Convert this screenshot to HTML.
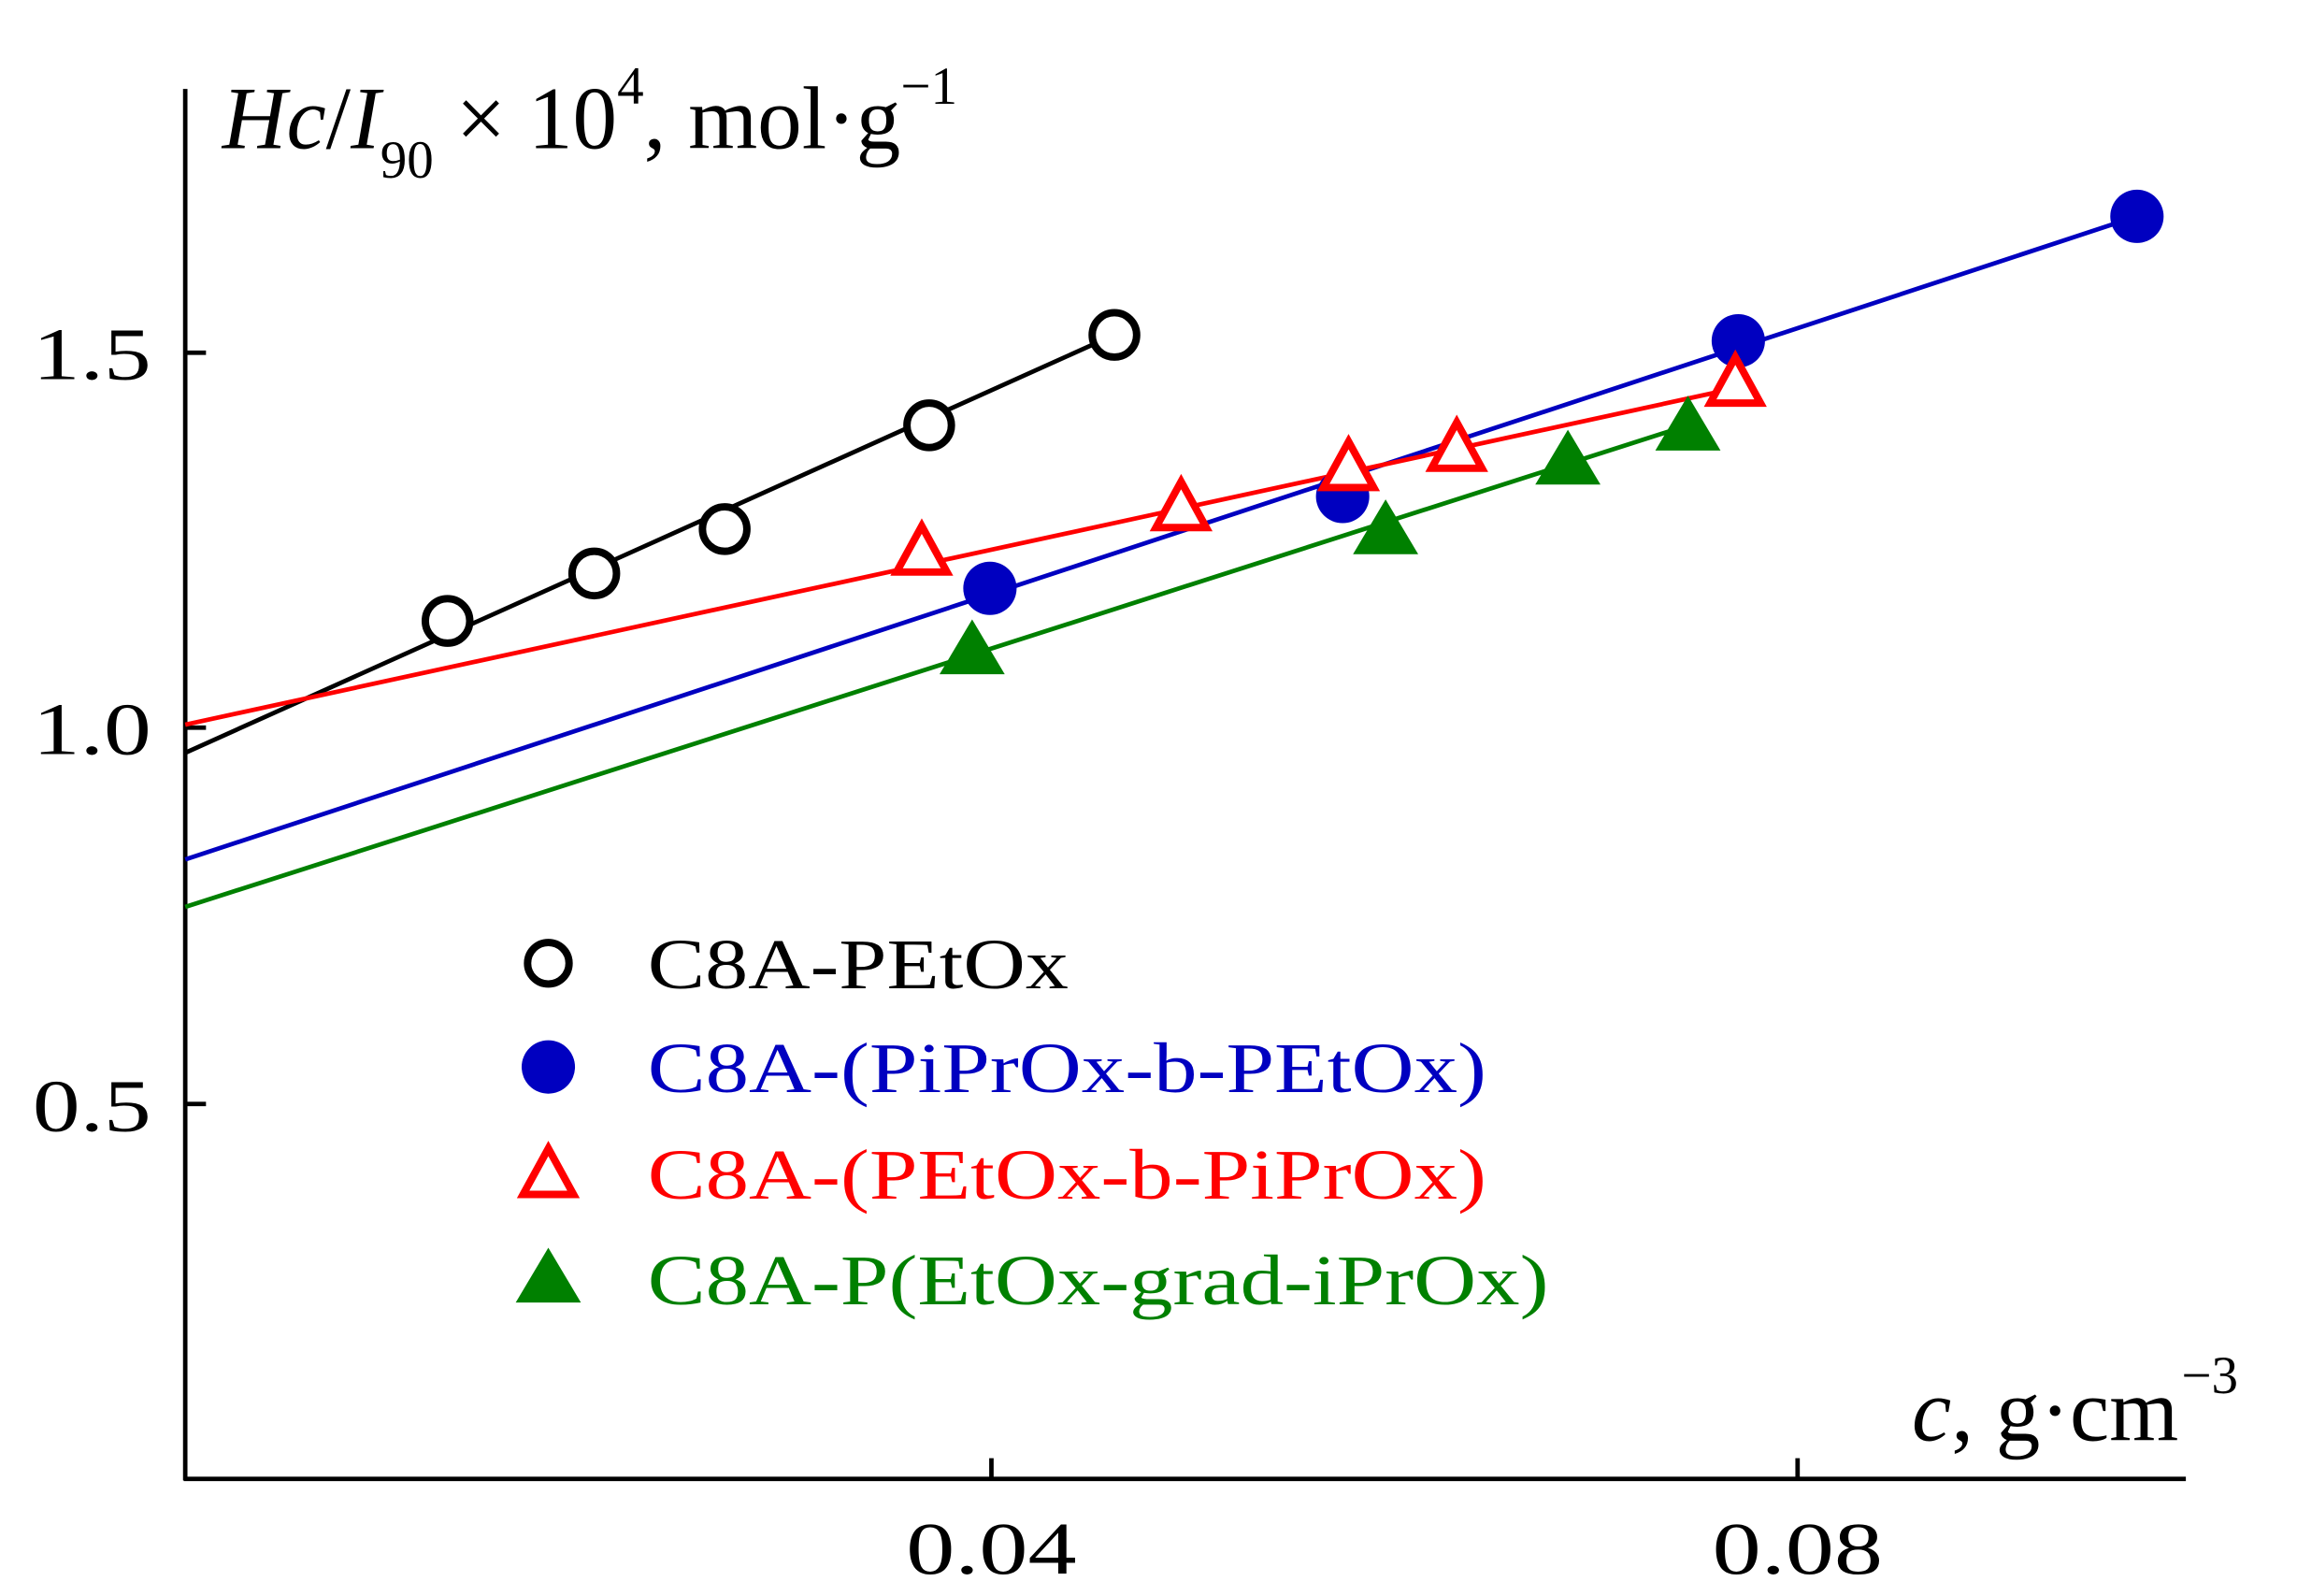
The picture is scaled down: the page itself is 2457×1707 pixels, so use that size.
<!DOCTYPE html>
<html><head><meta charset="utf-8"><style>
html,body{margin:0;padding:0;background:#fff;}
svg{display:block;}
text{font-family:"Liberation Serif",serif;}
</style></head><body>
<svg width="2457" height="1707" viewBox="0 0 1550 1077" preserveAspectRatio="none" xmlns="http://www.w3.org/2000/svg">
<rect width="1550" height="1077" fill="#fff"/>
<g stroke="#000" stroke-width="3" fill="none">
<line x1="125" y1="60" x2="125" y2="999"/>
<line x1="124" y1="998" x2="1475" y2="998"/>
<line x1="125" y1="238" x2="139" y2="238"/>
<line x1="125" y1="491" x2="139" y2="491"/>
<line x1="125" y1="745" x2="139" y2="745"/>
<line x1="669" y1="998" x2="669" y2="984"/>
<line x1="1213" y1="998" x2="1213" y2="984"/>
</g>
<g font-size="50" fill="#000">
<text x="102" y="256" text-anchor="end" textLength="80" lengthAdjust="spacingAndGlyphs">1.5</text>
<text x="102" y="509" text-anchor="end" textLength="80" lengthAdjust="spacingAndGlyphs">1.0</text>
<text x="102" y="763" text-anchor="end" textLength="80" lengthAdjust="spacingAndGlyphs">0.5</text>
<text x="669" y="1062" text-anchor="middle" textLength="115" lengthAdjust="spacingAndGlyphs">0.04</text>
<text x="1213" y="1062" text-anchor="middle" textLength="115" lengthAdjust="spacingAndGlyphs">0.08</text>
<text x="150" y="100" font-size="60"><tspan font-style="italic">Hc</tspan>/<tspan font-style="italic">I</tspan><tspan font-size="36" dy="20">90</tspan><tspan dy="-20"> × 10</tspan><tspan font-size="36" dy="-30">4</tspan><tspan dy="30">, mol·g</tspan><tspan font-size="36" dy="-30">−1</tspan></text>
<text x="1470" y="972" text-anchor="end" font-size="60"><tspan font-style="italic">c</tspan>, g·cm</text>
<text x="1472" y="940" font-size="36">−3</text>
</g>
<g stroke-width="3" fill="none">
<line x1="125" y1="508" x2="752" y2="226" stroke="#000"/>
<line x1="125" y1="580" x2="1442" y2="146" stroke="#0000c0"/>
<line x1="125" y1="489" x2="1171" y2="262" stroke="#ff0000"/>
<line x1="125" y1="612" x2="1139" y2="287" stroke="#008000"/>
</g>
<g fill="#fff" stroke="#000" stroke-width="5">
<circle cx="302" cy="419" r="15"/><circle cx="401" cy="387" r="15"/><circle cx="489" cy="357" r="15"/><circle cx="627" cy="287" r="15"/><circle cx="752" cy="226" r="15"/>
<circle cx="370" cy="650" r="14"/>
</g>
<g fill="#0000c0">
<circle cx="668" cy="397" r="18"/><circle cx="906" cy="335" r="18"/><circle cx="1173" cy="230" r="18"/><circle cx="1442" cy="146" r="18"/>
<circle cx="370" cy="720" r="18"/>
</g>
<g fill="#008000">
<polygon points="656,418 678,455 634,455"/><polygon points="935,337 957,374 913,374"/><polygon points="1058,290 1080,327 1036,327"/><polygon points="1139,267 1161,304 1117,304"/>
<polygon points="370,842 392,879 348,879"/>
</g>
<g fill="#fff" stroke="#ff0000" stroke-width="5" stroke-linejoin="miter">
<polygon points="622,355 639,386 605,386"/><polygon points="797,325 814,356 780,356"/><polygon points="910,298 927,329 893,329"/><polygon points="983,285 1000,316 966,316"/><polygon points="1171,241 1188,272 1154,272"/>
<polygon points="370,775 387,806 353,806"/>
</g>
<g font-size="48">
<text x="437" y="667" fill="#000" textLength="284" lengthAdjust="spacingAndGlyphs">C8A-PEtOx</text>
<text x="437" y="737" fill="#0000c0" textLength="566" lengthAdjust="spacingAndGlyphs">C8A-(PiPrOx-b-PEtOx)</text>
<text x="437" y="809" fill="#ff0000" textLength="566" lengthAdjust="spacingAndGlyphs">C8A-(PEtOx-b-PiPrOx)</text>
<text x="437" y="880" fill="#008000" textLength="608" lengthAdjust="spacingAndGlyphs">C8A-P(EtOx-grad-iPrOx)</text>
</g>
</svg>
</body></html>
